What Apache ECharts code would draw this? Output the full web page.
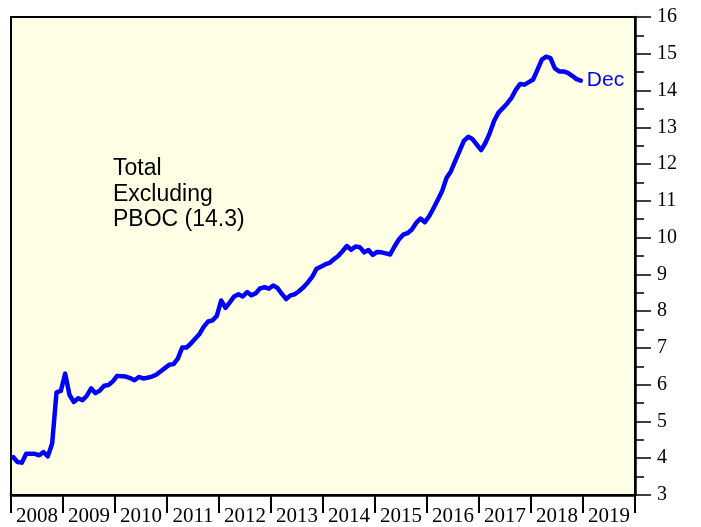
<!DOCTYPE html>
<html>
<head>
<meta charset="utf-8">
<script src="https://cdn.jsdelivr.net/npm/echarts@6/dist/echarts.min.js"></script>
<style>
  html, body { margin: 0; padding: 0; background: #fff; }
  #chart { width: 701px; height: 527px; }
</style>
</head>
<body>
<div id="chart"></div>
<script>
// year bins on the bottom axis
var years = ['2008', '2009', '2010', '2011', '2012', '2013', '2014', '2015', '2016', '2017', '2018', '2019'];

// monthly values, Jan 2008 .. Dec 2018
var totalExPboc = [
  4.03, 3.90, 3.88, 4.12, 4.12, 4.12, 4.08, 4.17, 4.05, 4.40, 5.79, 5.83,
  6.30, 5.72, 5.53, 5.63, 5.58, 5.70, 5.90, 5.77, 5.84, 5.97, 5.99, 6.09,
  6.24, 6.23, 6.22, 6.18, 6.12, 6.21, 6.17, 6.19, 6.22, 6.27, 6.36, 6.45,
  6.54, 6.56, 6.71, 7.01, 7.01, 7.12, 7.25, 7.38, 7.58, 7.72, 7.75, 7.87,
  8.29, 8.09, 8.24, 8.40, 8.46, 8.40, 8.52, 8.43, 8.49, 8.62, 8.65, 8.61,
  8.70, 8.63, 8.47, 8.33, 8.43, 8.46, 8.55, 8.65, 8.78, 8.93, 9.15, 9.21,
  9.27, 9.31, 9.41, 9.50, 9.63, 9.77, 9.67, 9.76, 9.74, 9.60, 9.66, 9.53,
  9.61, 9.60, 9.57, 9.54, 9.76, 9.95, 10.08, 10.12, 10.22, 10.40, 10.52, 10.42,
  10.58, 10.80, 11.03, 11.27, 11.62, 11.80, 12.08, 12.35, 12.63, 12.74, 12.68, 12.53,
  12.38, 12.58, 12.85, 13.18, 13.40, 13.52, 13.65, 13.80, 14.02, 14.18, 14.16, 14.23,
  14.30, 14.57, 14.84, 14.92, 14.88, 14.60, 14.52, 14.52, 14.48, 14.40, 14.31, 14.27
];

var yTicks = [3, 16, 1];
var annotation = 'Total\nExcluding\nPBOC (14.3)';
var endText = 'Dec';

var chart = echarts.init(document.getElementById('chart'));

// month index -> point at the middle of the month
var lineData = [];
for (var i = 0; i < totalExPboc.length; i++) {
    lineData.push([i + 0.5, totalExPboc[i]]);
}

var option = {
    backgroundColor: '#ffffff',
    animation: false,
    grid: {
        left: 11,
        right: 66,
        top: 17,
        bottom: 31,
        show: true,
        backgroundColor: '#FFFFE6',
        borderColor: '#000',
        borderWidth: 2
    },
    xAxis: [{
        type: 'category',
        data: years,
        boundaryGap: true,
        axisLine: { lineStyle: { color: '#000', width: 2.5 } },
        axisTick: { show: true, length: 18, lineStyle: { color: '#000', width: 2 } },
        axisLabel: {
            interval: 0,
            margin: 11,
            color: '#000',
            fontFamily: 'Liberation Serif',
            fontSize: 21
        },
        splitLine: { show: false }
    }, {
        type: 'value',
        min: 0,
        max: years.length * 12,
        show: false
    }],
    yAxis: {
        type: 'value',
        position: 'right',
        min: yTicks[0],
        max: yTicks[1],
        interval: yTicks[2],
        axisLine: { show: true, onZero: false, lineStyle: { color: '#000', width: 2.5 } },
        axisTick: { show: true, length: 16, lineStyle: { color: '#000', width: 1.5 } },
        minorTick: { show: true, splitNumber: 2, length: 9, lineStyle: { color: '#000', width: 1.5 } },
        axisLabel: {
            margin: 22,
            color: '#000',
            fontFamily: 'Liberation Serif',
            fontSize: 20
        },
        splitLine: { show: false }
    },
    graphic: [{
        type: 'text',
        left: 113,
        top: 156,
        style: {
            text: annotation,
            fill: '#000',
            font: '23px "Liberation Sans"',
            lineHeight: 25.5
        }
    }],
    series: [{
        type: 'line',
        xAxisIndex: 1,
        data: lineData,
        showSymbol: false,
        lineStyle: { color: '#0000FF', width: 4.5, cap: 'round', join: 'round' },
        endLabel: {
            show: true,
            formatter: endText,
            distance: 6,
            color: '#0000FF',
            fontFamily: 'Liberation Sans',
            fontSize: 21
        }
    }]
};

chart.setOption(option);
</script>
</body>
</html>
